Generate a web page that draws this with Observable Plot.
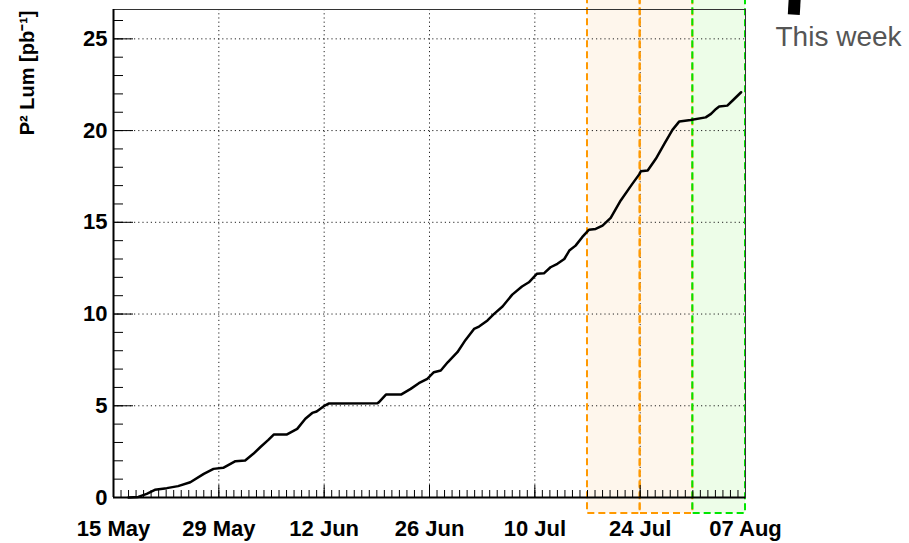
<!DOCTYPE html>
<html><head><meta charset="utf-8">
<script src="https://cdn.jsdelivr.net/npm/d3@7"></script>
<script src="https://cdn.jsdelivr.net/npm/@observablehq/plot@0.6"></script>
<style>body{margin:0;background:#fff} svg{overflow:visible}</style>
</head><body><div id="chart"></div>
<script>
// Integrated P^2 luminosity (pb^-1) versus time
const times = [
  "2012-05-17T00","2012-05-18T07","2012-05-19T10","2012-05-20T12","2012-05-22T02","2012-05-23T14",
  "2012-05-25T05","2012-05-27T00","2012-05-28T07","2012-05-29T14","2012-05-31T05","2012-06-01T12",
  "2012-06-02T14","2012-06-03T12","2012-06-04T14","2012-06-05T07","2012-06-07T00","2012-06-08T10",
  "2012-06-09T12","2012-06-10T10","2012-06-11T00","2012-06-12T02","2012-06-12T14","2012-06-19T02",
  "2012-06-19T07","2012-06-20T05","2012-06-22T05","2012-06-23T12","2012-06-24T14","2012-06-25T17",
  "2012-06-26T14","2012-06-27T12","2012-06-28T10","2012-06-29T17","2012-06-30T19","2012-07-01T22",
  "2012-07-02T14","2012-07-03T17","2012-07-04T14","2012-07-05T17","2012-07-07T00","2012-07-08T07",
  "2012-07-09T05","2012-07-10T07","2012-07-11T05","2012-07-12T02","2012-07-13T00","2012-07-13T22",
  "2012-07-14T14","2012-07-15T10","2012-07-16T07","2012-07-17T05","2012-07-18T02","2012-07-19T00",
  "2012-07-20T02","2012-07-21T10","2012-07-22T19","2012-07-23T22","2012-07-24T02","2012-07-25T00",
  "2012-07-26T02","2012-07-27T05","2012-07-28T07","2012-07-29T05","2012-07-30T17","2012-08-01T17",
  "2012-08-02T10","2012-08-03T02","2012-08-03T12","2012-08-04T14","2012-08-05T07","2012-08-06T10"
];
const lumi = [
  0.00, 0.03, 0.20, 0.42, 0.51, 0.62,
  0.83, 1.29, 1.56, 1.62, 1.98, 2.02,
  2.38, 2.74, 3.14, 3.43, 3.43, 3.74,
  4.29, 4.61, 4.69, 5.01, 5.12, 5.14,
  5.20, 5.61, 5.61, 5.92, 6.23, 6.47,
  6.83, 6.92, 7.37, 7.92, 8.59, 9.19,
  9.32, 9.65, 10.01, 10.41, 11.06, 11.50,
  11.73, 12.20, 12.22, 12.55, 12.74, 13.00,
  13.46, 13.73, 14.19, 14.60, 14.64, 14.82,
  15.24, 16.19, 17.00, 17.64, 17.78, 17.82,
  18.46, 19.27, 20.04, 20.50, 20.58, 20.72,
  20.91, 21.18, 21.31, 21.36, 21.64, 22.09
];
// Highlighted weeks
const weekStart = ["2012-07-17", "2012-07-24", "2012-07-31"];
const weekEnd   = ["2012-07-24", "2012-07-31", "2012-08-07"];
const weekFill  = ["#fef6ec", "#fef6ec", "#edfde8"];
const weekStroke= ["#ff9900", "#ff9900", "#00e600"];
// Axis ticks
const xTickLabels = ["2012-05-15","2012-05-29","2012-06-12","2012-06-26","2012-07-10","2012-07-24","2012-08-07"];
const yTickLabels = [0, 5, 10, 15, 20, 25];
const yTitle = "P\u00B2 Lum [pb\u207B\u00B9]";
const note = "This week";
// annotation arrow trunk (partially off-page)
const arrowX = ["2012-08-13T10", "2012-08-13T14"];
const arrowY = [26.32, 27.5];

const pd = d3.utcParse("%Y-%m-%d");
const pt = d3.utcParse("%Y-%m-%dT%H");
const data = times.map((t, i) => ({date: pt(t), lumi: lumi[i]}));
const weeks = weekStart.map((s, i) => ({start: pd(s), end: pd(weekEnd[i]), fill: weekFill[i], stroke: weekStroke[i]}));
const majorX = xTickLabels.map(pd);
const xDomain = [majorX[0], majorX[majorX.length - 1]];
const minorX = d3.utcDay.range(xDomain[0], d3.utcDay.offset(xDomain[1], 1));
const minorY = d3.range(0, 27);
const arrow = [{x1: pt(arrowX[0]), y1: arrowY[0], x2: pt(arrowX[1]), y2: arrowY[1]}];

const font = "'Liberation Sans', Arial, Helvetica, sans-serif";
const chart = Plot.plot({
  width: 909, height: 543,
  marginLeft: 113, marginRight: 164, marginTop: 9, marginBottom: 46,
  style: {fontFamily: font, background: "#fff", overflow: "visible"},
  x: {type: "utc", domain: xDomain},
  y: {domain: [0, 26.6]},
  marks: [
    Plot.rect(weeks, {x1: "start", x2: "end", fill: "fill", insetTop: -14, insetBottom: -16}),
    Plot.gridX(majorX.slice(1, -1), {stroke: "#222", strokeOpacity: 1, strokeWidth: 1, strokeDasharray: "1.2,3"}),
    Plot.gridY(yTickLabels.slice(1), {stroke: "#222", strokeOpacity: 1, strokeWidth: 1, strokeDasharray: "1.2,3"}),
    Plot.rect(weeks, {x1: "start", x2: "end", stroke: "stroke", fill: "none", strokeWidth: 2, strokeDasharray: "7,4", insetTop: -14, insetBottom: -16}),
    Plot.axisX(minorX, {tickSize: -7, tickFormat: () => "", label: null}),
    Plot.axisX(majorX, {tickSize: -12, tickFormat: () => "", label: null}),
    Plot.axisX(majorX, {tickSize: 0, tickPadding: 23, tickFormat: d3.utcFormat("%d %b"), fontSize: 22, fontWeight: "bold", fill: "#000", label: null}),
    Plot.axisY(minorY, {tickSize: -10, tickFormat: () => "", label: null}),
    Plot.axisY(yTickLabels, {tickSize: -20, tickFormat: () => "", label: null}),
    Plot.axisY(yTickLabels, {tickSize: 0, tickPadding: 6, fontSize: 22, fontWeight: "bold", fill: "#000", label: null}),
    Plot.frame({stroke: "#333", strokeWidth: 1}),
    Plot.ruleY([0], {stroke: "#000", strokeWidth: 2}),
    Plot.ruleX([xDomain[0]], {stroke: "#000", strokeWidth: 2}),
    Plot.line(data, {x: "date", y: "lumi", stroke: "#000", strokeWidth: 2.5}),
    Plot.text([yTitle], {frameAnchor: "top-left", rotate: -90, textAnchor: "end", lineAnchor: "middle", dx: -86, dy: 1, fontSize: 20, fontWeight: "bold", fill: "#000"}),
    Plot.link(arrow, {x1: "x1", y1: "y1", x2: "x2", y2: "y2", stroke: "#000", strokeWidth: 12}),
    Plot.text([note], {frameAnchor: "top-right", textAnchor: "middle", lineAnchor: "middle", dx: 93, dy: 28, fontSize: 28, fill: "#555"})
  ]
});
document.getElementById("chart").append(chart);
</script>
</body></html>
